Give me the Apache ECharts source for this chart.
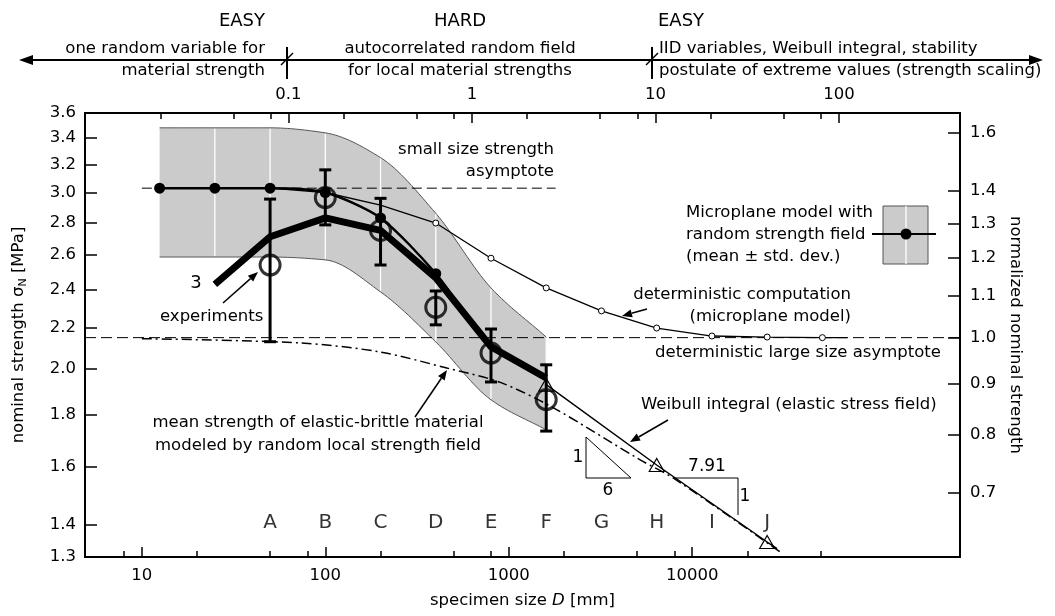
<!DOCTYPE html>
<html><head><meta charset="utf-8">
<script src="https://cdn.jsdelivr.net/npm/echarts@6/dist/echarts.min.js"></script>
<style>html,body{margin:0;padding:0;background:#fff}#c{width:1055px;height:616px}</style>
</head><body><div id="c"></div>
<script>
// ---------------- data ----------------
const bandD = [12.5, 25, 50, 100, 200, 400, 800, 1600];
const bandUpper = [3.48, 3.48, 3.48, 3.44, 3.25, 2.86, 2.41, 2.153];
const bandLower = [2.587, 2.587, 2.587, 2.57, 2.388, 2.129, 1.864, 1.74];
const meanD = [12.5, 25, 50, 100, 200, 400, 800, 1600];
const meanSigma = [3.03, 3.03, 3.03, 3.0, 2.83, 2.49, 2.105, 1.96];
const curve3D = [25, 50, 100, 200, 400, 800, 1600];
const curve3Sigma = [2.43, 2.71, 2.83, 2.75, 2.466, 2.105, 1.96];
const expD = [50, 100, 200, 400, 800, 1600];
const expMean = [2.54, 2.965, 2.75, 2.305, 2.075, 1.865];
const expLow = [2.13, 2.785, 2.54, 2.214, 1.942, 1.735];
const expHigh = [2.955, 3.16, 2.96, 2.393, 2.193, 2.02];
const detD = [12.5, 25, 50, 100, 200, 400, 800, 1600, 3200, 6400, 12800, 25600, 51200, 70000];
const detSigma = [3.03, 3.03, 3.03, 3.0, 2.915, 2.797, 2.58, 2.41, 2.286, 2.198, 2.158, 2.153, 2.15, 2.15];
const weibullD = [1600, 6400, 25600, 29000];
const weibullSigma = [1.93, 1.605, 1.345, 1.325];
const brittleD = [10, 73, 200, 460, 900, 1750, 5200, 7870, 31000];
const brittleSigma = [2.145, 2.124, 2.08, 2.005, 1.94, 1.83, 1.624, 1.558, 1.31];
const letters = ['A', 'B', 'C', 'D', 'E', 'F', 'G', 'H', 'I', 'J'];
const letterD = [50, 100, 200, 400, 800, 1600, 3200, 6400, 12800, 25600];
const letterSigma = 1.405;
const smallAsymD = [10, 1800];
const smallAsym = 3.03;
const largeAsym = 2.15;
const yTicksLeft = [1.3, 1.4, 1.6, 1.8, 2.0, 2.2, 2.4, 2.6, 2.8, 3.0, 3.2, 3.4, 3.6];
const yTicksRight = [0.7, 0.8, 0.9, 1.0, 1.1, 1.2, 1.3, 1.4, 1.6];
const xMajor = [10, 100, 1000, 10000];
const xMinor = [8, 20, 50, 80, 200, 500, 800, 2000, 5000, 8000, 20000, 50000];
const topMajor = [0.1, 1, 10, 100];
const topMinor = [0.02, 0.05, 0.08, 0.2, 0.5, 0.8, 2, 5, 8, 20, 50, 80];

// ---------------- setup ----------------
const F = 'DejaVu Sans';
const FS = 16.5;
const xMin = 4.9, xMax = 2.88e5, topFactor = 630;
const yMin = 1.2995, yMax = 3.6005, normRef = 2.15;

const chart = echarts.init(document.getElementById('c'), null, {renderer: 'canvas'});

const txt = (t, x, y, align, size) => ({type: 'text', x: x, y: y, z: 50,
  style: {text: t, fill: '#000', fontSize: size || FS, fontFamily: F, align: align || 'left', verticalAlign: 'middle'}});
const ln = (x1, y1, x2, y2, w, col) => ({type: 'line', z: 50, shape: {x1, y1, x2, y2}, style: {stroke: col || '#000', lineWidth: w || 1}});
function arrow(x1, y1, x2, y2, lw, hl, hw) {
  lw = lw || 1.5; hl = hl || 10; hw = hw || 4;
  const a = Math.atan2(y2 - y1, x2 - x1);
  const bx = x2 - hl * Math.cos(a), by = y2 - hl * Math.sin(a);
  const px = -Math.sin(a) * hw, py = Math.cos(a) * hw;
  return [ln(x1, y1, bx, by, lw), {type: 'polygon', z: 50, shape: {points: [[x2, y2], [bx + px, by + py], [bx - px, by - py]]}, style: {fill: '#000'}}];
}
function smoothPts(p) {
  const n = p.length, dx = [], s = [], m = [];
  for (let i = 0; i < n - 1; i++) { dx[i] = p[i + 1][0] - p[i][0]; s[i] = (p[i + 1][1] - p[i][1]) / dx[i]; }
  m[0] = s[0]; m[n - 1] = s[n - 2];
  for (let i = 1; i < n - 1; i++) {
    if (s[i - 1] * s[i] <= 0) m[i] = 0;
    else { const w1 = 2 * dx[i] + dx[i - 1], w2 = dx[i] + 2 * dx[i - 1]; m[i] = (w1 + w2) / (w1 / s[i - 1] + w2 / s[i]); }
  }
  const out = [p[0]];
  for (let i = 0; i < n - 1; i++) {
    const P0 = p[i], P3 = p[i + 1], h = dx[i] / 3;
    const P1 = [P0[0] + h, P0[1] + m[i] * h], P2 = [P3[0] - h, P3[1] - m[i + 1] * h];
    for (let k = 1; k <= 16; k++) {
      const t = k / 16, u = 1 - t;
      out.push([u * u * u * P0[0] + 3 * u * u * t * P1[0] + 3 * u * t * t * P2[0] + t * t * t * P3[0],
                u * u * u * P0[1] + 3 * u * u * t * P1[1] + 3 * u * t * t * P2[1] + t * t * t * P3[1]]);
    }
  }
  return out;
}

const axisCommon = {splitLine: {show: false}, axisLine: {show: false}};
const lblStyle = {color: '#000', fontSize: FS, fontFamily: F};

const graphics = [].concat(
  [txt('EASY', 265, 21, 'right', 18), txt('one random variable for', 265, 49, 'right'), txt('material strength', 265, 71, 'right'),
   txt('HARD', 460, 21, 'center', 18), txt('autocorrelated random field', 460, 49, 'center'), txt('for local material strengths', 460, 71, 'center'),
   txt('EASY', 658, 21, 'left', 18), txt('IID variables, Weibull integral, stability', 659, 49, 'left'),
   txt('postulate of extreme values (strength scaling)', 659, 71, 'left')],
  arrow(540, 60, 19, 60, 2, 14, 5), arrow(540, 60, 1043, 60, 2, 14, 5),
  [ln(287, 47, 287, 79, 2), ln(281, 65, 293, 53, 1.5), ln(652, 47, 652, 79, 2), ln(646, 65, 658, 53, 1.5)],
  [txt('small size strength', 554, 150, 'right'), txt('asymptote', 554, 172, 'right'),
   txt('Microplane model with', 686, 213), txt('random strength field', 686, 235), txt('(mean \u00b1 std. dev.)', 686, 257),
   txt('deterministic computation', 851, 295, 'right'), txt('(microplane model)', 851, 317, 'right'),
   txt('deterministic large size asymptote', 655, 353), txt('Weibull integral (elastic stress field)', 641, 405),
   txt('mean strength of elastic-brittle material', 318, 423, 'center'), txt('modeled by random local strength field', 318, 446, 'center'),
   txt('experiments', 160, 317), txt('3', 196, 283, 'center', 18)],
  arrow(223, 303, 258, 272), arrow(415, 417, 447, 370), arrow(647, 309, 622, 316), arrow(668, 420, 630, 442),
  [{type: 'polygon', z: 50, shape: {points: [[586, 437], [586, 478], [631, 478]]}, style: {fill: 'none', stroke: '#000', lineWidth: 1}},
   txt('1', 578, 458, 'center', 17), txt('6', 608, 491, 'center', 17),
   {type: 'polyline', z: 50, shape: {points: [[673, 478], [738, 478], [738, 515]]}, style: {fill: 'none', stroke: '#000', lineWidth: 1}},
   txt('7.91', 707, 467, 'center', 17), txt('1', 745, 497, 'center', 17)],
  [{type: 'rect', z: 50, shape: {x: 883, y: 206, width: 45, height: 58}, style: {fill: '#cbcbcb', stroke: '#555', lineWidth: 1}},
   ln(906, 206, 906, 264, 1.3, '#fff'), ln(872, 234, 936, 234, 2),
   {type: 'circle', z: 51, shape: {cx: 906, cy: 234, r: 5.5}, style: {fill: '#000'}}]
);

const option = {
  animation: false,
  backgroundColor: '#fff',
  textStyle: {fontFamily: F},
  grid: {left: 85, right: 95, top: 113, bottom: 59, show: true, borderColor: '#000', borderWidth: 2, backgroundColor: 'transparent'},
  xAxis: [
    Object.assign({type: 'log', logBase: 10, min: xMin, max: xMax, position: 'bottom',
      axisTick: {show: true, inside: true, length: 10, customValues: xMajor, lineStyle: {color: '#000', width: 1.5}},
      axisLabel: {customValues: xMajor, formatter: v => String(Math.round(v)), margin: 10, ...lblStyle},
      name: 'specimen size {i|D} [mm]', nameLocation: 'middle', nameGap: 35,
      nameTextStyle: {color: '#000', fontSize: FS, fontFamily: F, rich: {i: {fontStyle: 'italic', fontSize: FS, fontFamily: F, color: '#000'}}}}, axisCommon),
    Object.assign({type: 'log', logBase: 10, min: xMin, max: xMax, position: 'bottom',
      axisTick: {show: true, inside: true, length: 6, customValues: xMinor, lineStyle: {color: '#000', width: 1.5}},
      axisLabel: {show: false}}, axisCommon),
    Object.assign({type: 'log', logBase: 10, min: xMin / topFactor, max: xMax / topFactor, position: 'top',
      axisTick: {show: true, inside: true, length: 10, customValues: topMajor, lineStyle: {color: '#000', width: 1.5}},
      axisLabel: {customValues: topMajor, formatter: v => String(+v.toPrecision(3)), margin: 10, ...lblStyle}}, axisCommon),
    Object.assign({type: 'log', logBase: 10, min: xMin / topFactor, max: xMax / topFactor, position: 'top',
      axisTick: {show: true, inside: true, length: 6, customValues: topMinor, lineStyle: {color: '#000', width: 1.5}},
      axisLabel: {show: false}}, axisCommon)
  ],
  yAxis: [
    Object.assign({type: 'log', logBase: 10, min: yMin, max: yMax, position: 'left',
      axisTick: {show: true, inside: true, length: 12, customValues: yTicksLeft, lineStyle: {color: '#000', width: 1.5}},
      axisLabel: {customValues: yTicksLeft, formatter: v => (+v).toFixed(1), margin: 9, ...lblStyle},
      name: 'nominal strength \u03c3{s|N} [MPa]', nameLocation: 'middle', nameGap: 56, nameRotate: 90,
      nameTextStyle: {color: '#000', fontSize: FS, fontFamily: F, rich: {s: {fontSize: 11, fontFamily: F, color: '#000', verticalAlign: 'bottom', padding: [10, 0, 0, 0]}}}}, axisCommon),
    Object.assign({type: 'log', logBase: 10, min: yMin / normRef, max: yMax / normRef, position: 'right',
      axisTick: {show: true, inside: true, length: 12, customValues: yTicksRight, lineStyle: {color: '#000', width: 1.5}},
      axisLabel: {customValues: yTicksRight, formatter: v => (+v).toFixed(1), margin: 10, ...lblStyle},
      name: 'normalized nominal strength', nameLocation: 'middle', nameGap: 43, nameRotate: -90,
      nameTextStyle: {color: '#000', fontSize: FS, fontFamily: F}}, axisCommon)
  ],
  series: [
    {type: 'custom', name: 'band', data: bandD.map((d, i) => [d, bandLower[i], bandUpper[i]]),
      encode: {x: 0, y: [1, 2]}, z: 1,
      renderItem: (params, api) => {
        const x = api.value(0);
        const lo = api.coord([x, api.value(1)]), hi = api.coord([x, api.value(2)]);
        if (params.dataIndex === 0) {
          const n = params.dataInsideLength, up = [], dn = [];
          for (let k = 0; k < n; k++) {
            const xx = api.value(0, k);
            up.push(api.coord([xx, api.value(2, k)]));
            dn.push(api.coord([xx, api.value(1, k)]));
          }
          const su = smoothPts(up), sd = smoothPts(dn);
          return {type: 'group', children: [
            {type: 'polygon', shape: {points: su.concat(sd.slice().reverse())}, style: {fill: '#cbcbcb', stroke: 'none'}},
            {type: 'polyline', shape: {points: su}, style: {fill: 'none', stroke: '#555', lineWidth: 1}},
            {type: 'polyline', shape: {points: sd}, style: {fill: 'none', stroke: '#555', lineWidth: 1}}]};
        }
        return {type: 'line', shape: {x1: lo[0], y1: lo[1] - 1, x2: hi[0], y2: hi[1] + 1}, style: {stroke: '#fff', lineWidth: 1.3}};
      }},
    {type: 'line', name: 'smallAsym', data: smallAsymD.map(d => [d, smallAsym]), symbol: 'none',
      lineStyle: {color: '#000', width: 1, type: [10, 5]}, z: 3},
    {type: 'line', name: 'largeAsym', data: [[xMin, largeAsym], [xMax, largeAsym]], symbol: 'none',
      lineStyle: {color: '#000', width: 1, type: [11, 5]}, z: 3},
    {type: 'line', name: 'brittle', data: brittleD.map((d, i) => [d, brittleSigma[i]]), symbol: 'none', smooth: 0.3,
      lineStyle: {color: '#000', width: 1.5, type: [10, 4, 2, 4]}, z: 3},
    {type: 'line', name: 'deterministic', data: detD.map((d, i) => (d >= 400 && d <= 51200) ? [d, detSigma[i]] : {value: [d, detSigma[i]], symbol: 'none'}),
      symbol: 'circle', symbolSize: 6, showAllSymbol: true,
      itemStyle: {color: '#fff', borderColor: '#000', borderWidth: 1}, lineStyle: {color: '#000', width: 1.3}, z: 4},
    {type: 'line', name: 'weibull', data: weibullD.map((d, i) => i < weibullD.length - 1 ? [d, weibullSigma[i]] : {value: [d, weibullSigma[i]], symbol: 'none'}),
      symbol: 'triangle', symbolSize: [15, 13], showAllSymbol: true,
      itemStyle: {color: 'rgba(0,0,0,0)', borderColor: '#000', borderWidth: 1.1}, lineStyle: {color: '#000', width: 1.5}, z: 4},
    {type: 'line', name: 'curve3', data: curve3D.map((d, i) => [d, curve3Sigma[i]]), symbol: 'none',
      lineStyle: {color: '#000', width: 7, join: 'miter'}, z: 5},
    {type: 'line', name: 'mean', data: meanD.map((d, i) => d <= 400 ? [d, meanSigma[i]] : {value: [d, meanSigma[i]], symbol: 'none'}),
      symbol: 'circle', symbolSize: 11, showAllSymbol: true, smooth: 0.25,
      itemStyle: {color: '#000'}, lineStyle: {color: '#000', width: 2.5}, z: 6},
    {type: 'custom', name: 'errbars', data: expD.map((d, i) => [d, expLow[i], expHigh[i]]), encode: {x: 0, y: [1, 2]}, z: 7,
      renderItem: (p, api) => {
        const x = api.value(0);
        const lo = api.coord([x, api.value(1)]), hi = api.coord([x, api.value(2)]), w = 6;
        const s = {stroke: '#000', lineWidth: 3};
        return {type: 'group', children: [
          {type: 'line', shape: {x1: lo[0], y1: lo[1], x2: hi[0], y2: hi[1]}, style: s},
          {type: 'line', shape: {x1: lo[0] - w, y1: lo[1], x2: lo[0] + w, y2: lo[1]}, style: s},
          {type: 'line', shape: {x1: hi[0] - w, y1: hi[1], x2: hi[0] + w, y2: hi[1]}, style: s}]};
      }},
    {type: 'scatter', name: 'experiments', data: expD.map((d, i) => [d, expMean[i]]), symbol: 'circle', symbolSize: 20,
      itemStyle: {color: 'rgba(0,0,0,0)', borderColor: '#000', borderWidth: 3}, z: 8},
    {type: 'scatter', name: 'letters', data: letterD.map((d, i) => ({value: [d, letterSigma], name: letters[i]})),
      symbolSize: 1, itemStyle: {color: 'rgba(0,0,0,0)'}, z: 9,
      label: {show: true, position: 'inside', formatter: '{b}', color: '#000', fontSize: 20, fontFamily: F}}
  ],
  graphic: {elements: graphics}
};
chart.setOption(option);
</script></body></html>
